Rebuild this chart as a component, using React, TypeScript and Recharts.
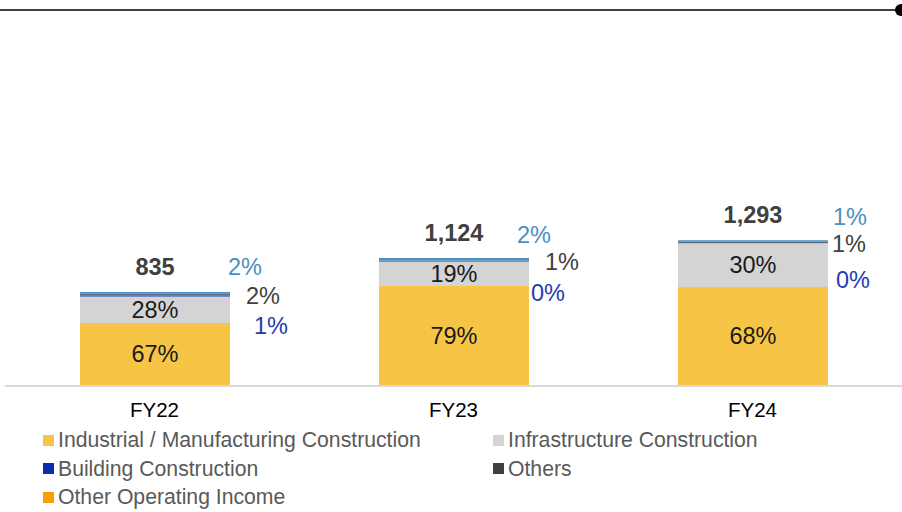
import React from 'react';
import { BarChart, Bar, XAxis, YAxis, LabelList } from 'recharts';

const categories = ['FY22', 'FY23', 'FY24'];
const totals = [835, 1124, 1293];
// shares (%) of each segment, bottom to top
const industrialPct = [67, 79, 68];
const infraPct = [28, 19, 30];
const buildingPct = [1, 0, 0];
const othersPct = [2, 1, 1];
const otherOpPct = [2, 2, 1];

const legendItems = [
  { name: 'Industrial / Manufacturing Construction', color: '#F7C545' },
  { name: 'Infrastructure Construction', color: '#D4D4D4' },
  { name: 'Building Construction', color: '#0A2DB0' },
  { name: 'Others', color: '#404040' },
  { name: 'Other Operating Income', color: '#F4A000' },
];

const data = categories.map((cat, i) => ({
  cat,
  industrial: (totals[i] * industrialPct[i]) / 100,
  infra: (totals[i] * infraPct[i]) / 100,
  building: (totals[i] * buildingPct[i]) / 100,
  others: (totals[i] * othersPct[i]) / 100,
  otherOp: (totals[i] * otherOpPct[i]) / 100,
}));

// hand-placed side labels, offsets from the bar's right edge / top of stack
const sideOffsets = {
  otherOp: [[-2, -25], [-12, -23], [5, -23]],
  others: [[16, 4], [16, 4], [4, 4]],
  building: [[24, 34], [2, 35], [8, 40]],
};

const FONT = '"Liberation Sans", Arial, sans-serif';

const insideLabel = (pcts: number[]) => (props: any) => {
  const { x, y, width, height, index } = props;
  return (
    <text
      x={x + width / 2}
      y={y + height / 2}
      textAnchor="middle"
      dominantBaseline="central"
      fontSize={23.5}
      fontFamily={FONT}
      fill="#1a1a1a"
    >
      {pcts[index]}%
    </text>
  );
};

const topLabels = (props: any) => {
  const { x, y, width, index } = props;
  const right = x + width;
  const rows = [
    { pct: otherOpPct[index], off: sideOffsets.otherOp[index], color: '#4A90C2' },
    { pct: othersPct[index], off: sideOffsets.others[index], color: '#404040' },
    { pct: buildingPct[index], off: sideOffsets.building[index], color: '#1F3BB3' },
  ];
  return (
    <g>
      <text
        x={x + width / 2}
        y={y - 25}
        textAnchor="middle"
        dominantBaseline="central"
        fontSize={23.5}
        fontWeight="bold"
        fontFamily={FONT}
        fill="#404040"
      >
        {totals[index].toLocaleString('en-US')}
      </text>
      {rows.map((r, k) => (
        <text
          key={k}
          x={right + r.off[0]}
          y={y + r.off[1]}
          dominantBaseline="central"
          fontSize={23.5}
          fontFamily={FONT}
          fill={r.color}
        >
          {r.pct}%
        </text>
      ))}
    </g>
  );
};

export default function App() {
  return (
    <div style={{ position: 'absolute', left: 0, top: 0, width: 902, height: 512, background: '#fff', overflow: 'hidden', fontFamily: FONT }}>
      <div style={{ position: 'absolute', left: 0, top: 9, width: 897, height: 1.5, background: '#404040' }} />
      <div style={{ position: 'absolute', left: 895, top: 4, width: 12, height: 12, borderRadius: 6, background: '#000' }} />
      <BarChart
        width={902}
        height={420}
        data={data}
        margin={{ top: 31, right: 0, left: 5, bottom: 0 }}
        barSize={150}
      >
        <XAxis
          dataKey="cat"
          axisLine={{ stroke: '#D9D9D9', strokeWidth: 2 }}
          tickLine={false}
          tickMargin={10}
          height={34}
          tick={{ fontSize: 20.5, fill: '#000', fontFamily: FONT }}
        />
        <YAxis hide domain={[0, 3150]} />
        <Bar dataKey="industrial" stackId="a" fill="#F7C545" isAnimationActive={false}>
          <LabelList dataKey="industrial" content={insideLabel(industrialPct)} />
        </Bar>
        <Bar dataKey="infra" stackId="a" fill="#D4D4D4" isAnimationActive={false}>
          <LabelList dataKey="infra" content={insideLabel(infraPct)} />
        </Bar>
        <Bar dataKey="building" stackId="a" fill="#0A2DB0" isAnimationActive={false} />
        <Bar dataKey="others" stackId="a" fill="#5A6A80" isAnimationActive={false} />
        <Bar dataKey="otherOp" stackId="a" fill="#4A90C2" isAnimationActive={false}>
          <LabelList dataKey="otherOp" content={topLabels} />
        </Bar>
      </BarChart>
      {legendItems.map((item, i) => {
        const col = i % 2;
        const row = Math.floor(i / 2);
        return (
          <div
            key={item.name}
            style={{
              position: 'absolute',
              left: col === 0 ? 43 : 493,
              top: 440 + row * 28.5 - 12,
              height: 24,
              display: 'flex',
              alignItems: 'center',
              fontSize: 21.2,
              color: '#595959',
              whiteSpace: 'nowrap',
            }}
          >
            <span style={{ display: 'inline-block', width: 11, height: 11, background: item.color, marginRight: 4 }} />
            {item.name}
          </div>
        );
      })}
    </div>
  );
}
